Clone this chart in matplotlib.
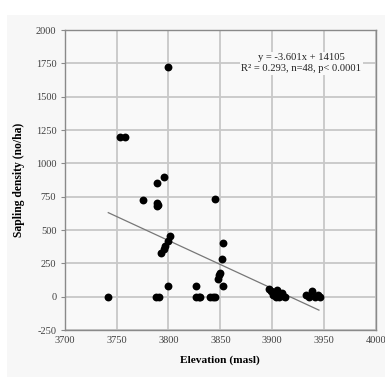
import matplotlib
matplotlib.use("Agg")
import matplotlib.pyplot as plt
import numpy as np

plt.rcParams["axes.unicode_minus"] = False

elevation = [3800, 3753, 3758, 3796, 3789, 3775, 3789, 3789, 3801, 3800,
             3797, 3796, 3793, 3800, 3791, 3742, 3845, 3853, 3852, 3850,
             3849, 3848, 3853, 3827, 3827, 3829, 3840, 3845, 3897, 3902,
             3905, 3909, 3904, 3912, 3933, 3938, 3944, 3941, 3843, 3790,
             3901, 3907, 3899, 3935, 3946, 3830, 3788, 3910]
density = [1725, 1200, 1200, 900, 850, 725, 700, 680, 455, 415,
           380, 355, 330, 80, 0, 0, 730, 405, 285, 180,
           160, 135, 80, 80, 0, 0, 0, 0, 55, 30,
           50, 28, 0, 0, 10, 40, 10, 0, 0, 690,
           10, 0, 40, 0, 0, 0, 0, 5]
slope = -3.601
intercept = 14105
fit_range = [3742, 3945]
x_ticks = [3700, 3750, 3800, 3850, 3900, 3950, 4000]
y_ticks = [-250, 0, 250, 500, 750, 1000, 1250, 1500, 1750, 2000]

fig = plt.figure(figsize=(3.85, 3.78), dpi=100)
fig.patch.set_facecolor("white")
bg = fig.add_axes([7/385, 1 - 377/378, 1, (377 - 15)/378], zorder=-5)
bg.set_facecolor("#f7f7f7")
bg.set_xticks([]); bg.set_yticks([])
for s in bg.spines.values():
    s.set_visible(False)

ax = fig.add_axes([64.7/385, 1 - 330/378, (376 - 64.7)/385, 300/378], zorder=1)
ax.set_facecolor("#f9f9f9")
ax.set_xlim(3700, 4000)
ax.set_ylim(-250, 2000)
ax.set_xticks(x_ticks)
ax.set_yticks(y_ticks)
ax.grid(True, color="#c8c8c8", linewidth=1.3, zorder=1)
ax.set_axisbelow(True)
for s in ax.spines.values():
    s.set_color("#8a8a8a")
    s.set_linewidth(1.0)

fx = np.array(fit_range, dtype=float)
ax.plot(fx, slope * fx + intercept, color="#777777", linewidth=0.9, zorder=2)
ax.scatter(elevation, density, s=32, color="black", zorder=3, linewidths=0)

serif = "Liberation Serif"
ax.tick_params(axis="y", length=3, color="#8a8a8a", labelsize=7.5,
               labelcolor="#404040", pad=3)
ax.tick_params(axis="x", length=0, labelsize=7.5, labelcolor="#404040", pad=4)
for lab in ax.get_xticklabels() + ax.get_yticklabels():
    lab.set_fontfamily(serif)

ax.set_xlabel("Elevation (masl)", fontfamily=serif, fontweight="bold",
              fontsize=8.2, labelpad=8)
ax.set_ylabel("Sapling density (no/ha)", fontfamily=serif, fontweight="bold",
              fontsize=8.4, labelpad=8)

ax.text(3928, 1750, "y = -3.601x + 14105\nR² = 0.293, n=48, p< 0.0001",
        ha="center", va="center", fontfamily=serif, fontsize=7.6,
        color="#222222", linespacing=1.3,
        bbox=dict(facecolor="#f9f9f9", edgecolor="none", pad=1.0), zorder=4)

fig.savefig("out.png", dpi=100)
